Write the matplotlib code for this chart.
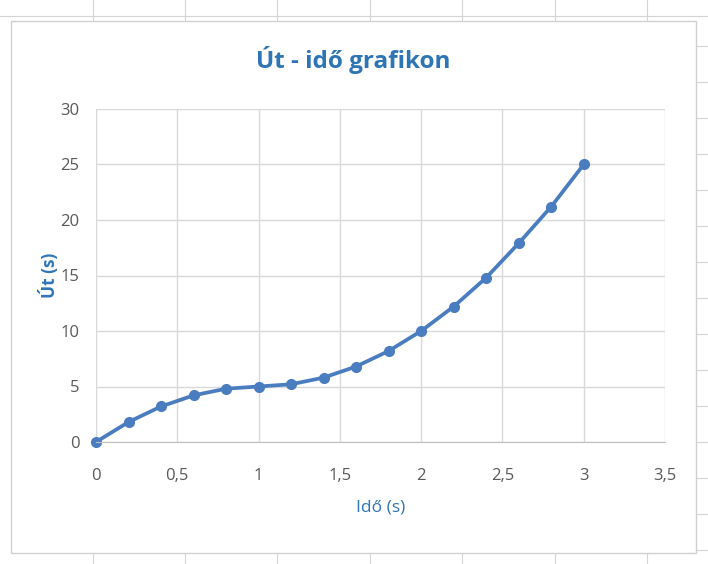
import matplotlib
matplotlib.use("Agg")
import matplotlib.pyplot as plt
from matplotlib.patches import Rectangle

# data
ido = [0, 0.2, 0.4, 0.6, 0.8, 1.0, 1.2, 1.4, 1.6, 1.8, 2.0, 2.2, 2.4, 2.6, 2.8, 3.0]
ut = [0, 1.8, 3.2, 4.2, 4.8, 5.0, 5.2, 5.8, 6.8, 8.2, 10.0, 12.2, 14.8, 17.9, 21.2, 25.0]
x_ticks = [0, 0.5, 1, 1.5, 2, 2.5, 3, 3.5]
x_labels = ["0", "0,5", "1", "1,5", "2", "2,5", "3", "3,5"]
y_ticks = [0, 5, 10, 15, 20, 25, 30]

blue = "#4A7DC0"
title_blue = "#2E75B6"
grid = "#D9D9D9"
tick_col = "#595959"

plt.rcParams['font.family'] = ['Open Sans', 'DejaVu Sans']

W, H = 708, 564
fig = plt.figure(figsize=(W / 100, H / 100), dpi=100)
fig.patch.set_facecolor("white")

# spreadsheet cell lines behind the chart
for xc in [93, 185, 277, 370, 462, 555, 647]:
    fig.add_artist(plt.Line2D([xc / W, xc / W], [0, 1], color="#D4D4D4", lw=0.8, zorder=0))
fig.add_artist(plt.Line2D([0, 1], [1 - 16 / H, 1 - 16 / H], color="#D4D4D4", lw=0.8, zorder=0))
for yc in [10 + 36 * k for k in range(1, 16)]:
    fig.add_artist(plt.Line2D([696 / W, 1], [1 - yc / H, 1 - yc / H], color="#D4D4D4", lw=0.8, zorder=0))

# chart box
fig.add_artist(Rectangle((11 / W, 1 - 553 / H), (696 - 11) / W, (553 - 21) / H,
                         facecolor="white", edgecolor="#D0D0D0", lw=1.0,
                         transform=fig.transFigure, zorder=1))

ax = fig.add_axes([96 / W, 1 - 442 / H, (665 - 96) / W, (442 - 109) / H], zorder=2)
ax.set_facecolor("white")
ax.plot(ido, ut, color=blue, lw=2.7, marker="o", markersize=7,
        markerfacecolor=blue, markeredgecolor=blue, solid_capstyle="round", clip_on=False)

ax.set_xlim(0, 3.5)
ax.set_ylim(0, 30)
ax.set_xticks(x_ticks)
ax.set_xticklabels(x_labels)
ax.set_yticks(y_ticks)
ax.grid(True, color=grid, lw=1.0)
ax.set_axisbelow(True)
for s in ["top", "right", "left"]:
    ax.spines[s].set_visible(False)
ax.spines["bottom"].set_color("#BFBFBF")
ax.tick_params(length=0, colors=tick_col, labelsize=12)
ax.tick_params(axis="x", pad=19)
ax.tick_params(axis="y", pad=12)

ax.set_xlabel("Idő (s)", color=title_blue, fontsize=12.5, labelpad=11)
ax.set_ylabel("Út (s)", color=title_blue, fontsize=12.5, fontweight="bold", labelpad=1)

fig.text(353 / W, 1 - 60 / H, "Út - idő grafikon", ha="center", va="center",
         color=title_blue, fontsize=17.5, fontweight="bold")

fig.savefig("out.png", dpi=100)
